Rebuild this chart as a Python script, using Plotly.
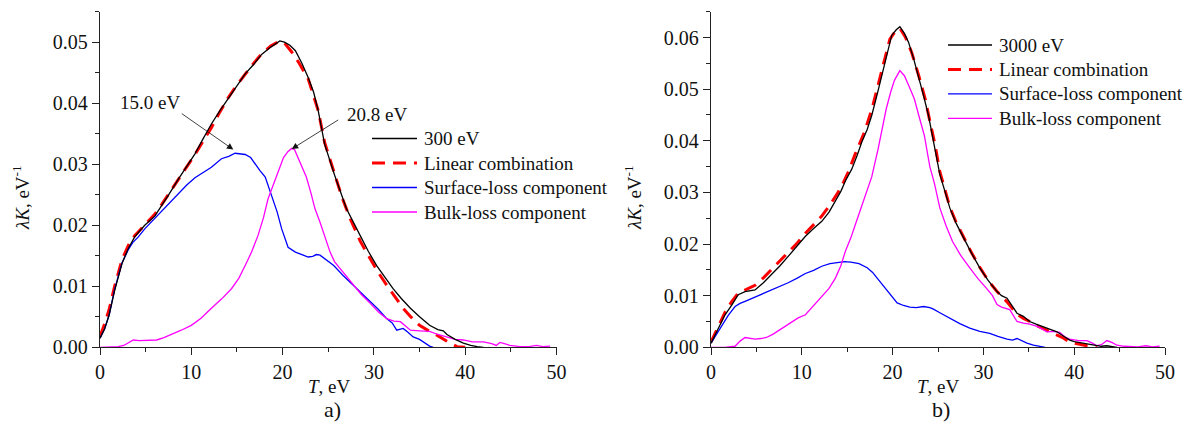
import plotly.graph_objects as go

# ---------------- data: panel a) (300 eV) ----------------
a_total = [(0, 0.0015), (0.5, 0.003), (1, 0.0053), (1.6, 0.0093), (2.4, 0.0137), (3.1, 0.0162),
           (3.8, 0.0181), (4.9, 0.0200), (6, 0.0215), (6.8, 0.0233), (7.6, 0.0252), (8.6, 0.0276),
           (9.5, 0.0296), (10.4, 0.0317), (11.3, 0.0342), (12.2, 0.0366), (13.1, 0.0387), (14.0, 0.0407),
           (14.9, 0.0427), (15.9, 0.0448), (16.8, 0.0463), (17.7, 0.0480), (18.7, 0.0492), (19.3, 0.0498),
           (19.7, 0.0502), (20.2, 0.0500), (20.8, 0.0495), (21.4, 0.0486), (22.1, 0.0466), (22.8, 0.0442),
           (23.4, 0.0418), (23.9, 0.0388), (24.6, 0.0333), (25.7, 0.0282), (27.0, 0.0227), (28.5, 0.0183),
           (29.4, 0.0157), (30.3, 0.0134), (31.2, 0.0114), (32.1, 0.0096), (33.0, 0.0080), (34.0, 0.0064),
           (35.0, 0.0050), (36.1, 0.0036), (37.0, 0.0029), (37.6, 0.0027), (38.0, 0.0021), (38.9, 0.0013),
           (39.8, 0.0007), (40.6, 0.0003), (41.3, 0.0001), (42.0, 0.0)]
a_fit = [(0, 0.0018), (0.5, 0.0038), (1, 0.0062), (1.6, 0.0100), (2.4, 0.0143), (3.1, 0.0167),
         (3.8, 0.0183), (4.9, 0.0201), (6, 0.0218), (6.8, 0.0235), (7.6, 0.0253), (8.6, 0.0274),
         (9.5, 0.0295), (10.4, 0.0316), (11.3, 0.0338), (12.2, 0.0360), (13.1, 0.0385), (14.0, 0.0408),
         (14.9, 0.0428), (15.9, 0.0448), (16.8, 0.0465), (17.7, 0.0481), (18.7, 0.0494), (19.7, 0.0502),
         (20.3, 0.0497), (21.0, 0.0484), (21.8, 0.0466), (22.8, 0.0440), (23.9, 0.0388), (24.6, 0.0336),
         (25.7, 0.0282), (26.5, 0.0246), (27.4, 0.0211), (28.5, 0.0174), (29.6, 0.0145), (30.5, 0.0122),
         (31.4, 0.0102), (32.3, 0.0083), (33.2, 0.0064), (34.1, 0.0049), (35.0, 0.0036), (36.0, 0.0027),
         (36.9, 0.0020), (38.0, 0.0010), (39.1, 0.0001), (40.0, 0.0)]
a_surface = [(0, 0.0015), (0.5, 0.003), (1, 0.0053), (1.6, 0.0095), (2.4, 0.0138), (3.1, 0.0160),
             (3.6, 0.0172), (4.2, 0.0181), (4.9, 0.0194), (5.8, 0.0208), (6.75, 0.0222), (7.6, 0.0237),
             (8.6, 0.0252), (9.5, 0.0266), (10.4, 0.0278), (11.3, 0.0287), (12.2, 0.0295), (13.3, 0.0309),
             (14.1, 0.0313), (14.8, 0.0318), (15.4, 0.0317), (15.9, 0.0316), (16.5, 0.0311), (17.0, 0.0300),
             (17.5, 0.0290), (18.1, 0.0279), (18.8, 0.0249), (19.4, 0.0222), (19.9, 0.0194), (20.3, 0.0175),
             (20.6, 0.0164), (21.4, 0.0156), (22.1, 0.0152), (22.8, 0.0148), (23.3, 0.0149), (23.7, 0.0152),
             (24.1, 0.0151), (24.6, 0.0145), (25.6, 0.0134), (26.6, 0.0118), (27.7, 0.0102), (28.6, 0.0089),
             (29.6, 0.0075), (30.5, 0.0062), (31.4, 0.0047), (32.0, 0.0040), (32.5, 0.0028), (33.2, 0.0031),
             (33.7, 0.0025), (34.3, 0.0017), (35.0, 0.0013), (35.4, 0.0009), (36.1, 0.0002), (36.5, 0.0)]
a_bulk = [(0, 0.0), (1, 0.0), (2, 0.0001), (2.6, 0.0003), (3.2, 0.0008), (3.65, 0.0012), (4.3, 0.0011),
          (4.9, 0.0011), (5.6, 0.0011), (6.2, 0.0012), (7.0, 0.0016), (7.85, 0.0021), (8.9, 0.0028),
          (10.0, 0.0036), (11.1, 0.0048), (12.2, 0.0064), (13.3, 0.0079), (14.4, 0.0096), (15.2, 0.0113),
          (15.9, 0.0134), (16.6, 0.0156), (17.3, 0.0183), (17.9, 0.0212), (18.4, 0.0243), (18.9, 0.0263),
          (19.35, 0.0282), (19.8, 0.0300), (20.1, 0.0311), (20.6, 0.0321), (21.0, 0.0326), (21.3, 0.0324),
          (21.7, 0.0311), (22.1, 0.0298), (22.6, 0.0279), (23.1, 0.0253), (23.55, 0.0227), (24.1, 0.0205),
          (24.6, 0.0183), (25.2, 0.0156), (25.7, 0.0140), (26.3, 0.0129), (27.0, 0.0115), (27.7, 0.0102),
          (28.6, 0.0087), (29.6, 0.0072), (30.5, 0.0058), (31.4, 0.0047), (32.2, 0.0043), (32.9, 0.0042),
          (33.5, 0.0034), (34.0, 0.0028), (35.0, 0.0027), (36.1, 0.0026), (37.0, 0.0021), (38.0, 0.0017),
          (38.9, 0.0013), (39.8, 0.0012), (40.8, 0.0009), (42.0, 0.0009), (42.9, 0.0006), (43.4, 0.0003),
          (43.8, 0.0008), (44.3, 0.0006), (44.9, 0.0003), (46.0, 0.0001), (47.0, 0.0001), (47.8, 0.0003),
          (48.5, 0.0001), (49.3, 0.0002)]

# ---------------- data: panel b) (3000 eV) ----------------
b_total = [(0, 0.0008), (0.8, 0.0037), (1.55, 0.0063), (2.3, 0.0082), (3.0, 0.0102), (3.75, 0.0108),
           (4.3, 0.0109), (4.85, 0.0111), (5.77, 0.0125), (6.7, 0.0141), (7.6, 0.0158), (8.5, 0.0176),
           (9.5, 0.0196), (10.4, 0.0215), (11.3, 0.0230), (12.2, 0.0244), (13.0, 0.0262), (13.7, 0.0283),
           (14.3, 0.0302), (14.8, 0.0322), (15.5, 0.0345), (16.1, 0.0372), (16.6, 0.0397), (17.2, 0.0422),
           (17.7, 0.0449), (18.3, 0.0490), (18.8, 0.0526), (19.4, 0.0568), (19.9, 0.0604), (20.4, 0.0615),
           (20.8, 0.0621), (21.3, 0.0608), (21.75, 0.0591), (22.3, 0.0560), (22.85, 0.0526), (23.4, 0.0488),
           (23.95, 0.0449), (24.4, 0.0410), (24.7, 0.0384), (25.2, 0.0335), (25.8, 0.0300), (26.3, 0.0270),
           (27.0, 0.0240), (27.8, 0.0212), (28.7, 0.0182), (29.6, 0.0154), (30.5, 0.0130), (31.5, 0.0108),
           (32.0, 0.0100), (32.6, 0.0095), (33.2, 0.0080), (33.7, 0.0066), (34.4, 0.0060), (35.1, 0.0050),
           (35.8, 0.0045), (36.6, 0.0040), (37.3, 0.0036), (38.1, 0.0030), (38.8, 0.0022), (39.5, 0.0014),
           (40.0, 0.0011), (40.7, 0.0009), (41.4, 0.0008), (42.0, 0.0006), (42.5, 0.0004), (43.0, 0.0002),
           (43.6, 0.0003), (44.2, 0.0001), (44.7, 0.0)]
b_fit = [(0, 0.0010), (0.8, 0.0040), (1.55, 0.0068), (2.3, 0.0089), (3.0, 0.0105), (3.9, 0.0112),
         (4.85, 0.0120), (5.8, 0.0135), (6.7, 0.0151), (7.6, 0.0167), (8.5, 0.0183), (9.5, 0.0202),
         (10.4, 0.0221), (11.3, 0.0237), (12.2, 0.0254), (13.1, 0.0276), (14.0, 0.0300), (14.6, 0.0320),
         (15.1, 0.0339), (15.9, 0.0375), (16.9, 0.0417), (17.7, 0.0460), (18.4, 0.0507), (19.1, 0.0553),
         (19.7, 0.0597), (20.3, 0.0612), (20.8, 0.0618), (21.4, 0.0601), (22.1, 0.0571), (22.9, 0.0525),
         (23.6, 0.0480), (24.2, 0.0430), (24.7, 0.0390), (25.2, 0.0340), (25.8, 0.0302), (26.3, 0.0272),
         (27.0, 0.0242), (27.8, 0.0213), (28.7, 0.0183), (29.6, 0.0155), (30.5, 0.0130), (31.5, 0.0108),
         (32.6, 0.0088), (33.7, 0.0064), (34.4, 0.0056), (35.1, 0.0050), (36.0, 0.0041), (37.0, 0.0033),
         (38.0, 0.0025), (38.8, 0.0018), (39.5, 0.0010), (40.5, 0.0006), (41.4, 0.0003), (42.5, 0.0)]
b_surface = [(0, 0.0008), (0.6, 0.0025), (1.18, 0.0043), (1.9, 0.0062), (2.65, 0.0079), (3.2, 0.0085),
             (3.75, 0.0089), (4.85, 0.0097), (5.8, 0.0104), (6.7, 0.0111), (7.6, 0.0118), (8.5, 0.0125),
             (9.5, 0.0134), (10.4, 0.0143), (11.3, 0.0149), (12.2, 0.0157), (13.1, 0.0162), (14.0, 0.0165),
             (14.7, 0.0166), (15.4, 0.0165), (16.3, 0.0162), (17.2, 0.0154), (17.8, 0.0145), (18.3, 0.0134),
             (18.9, 0.0121), (19.4, 0.0108), (20.0, 0.0095), (20.5, 0.0086), (21.2, 0.0081), (21.9, 0.0078),
             (22.6, 0.0077), (23.4, 0.0079), (24.1, 0.0077), (24.5, 0.0074), (25.2, 0.0067), (26.3, 0.0056),
             (27.4, 0.0046), (28.5, 0.0037), (29.6, 0.0031), (30.7, 0.0027), (31.6, 0.0021), (32.6, 0.0016),
             (33.2, 0.0014), (33.7, 0.0017), (34.3, 0.0012), (34.8, 0.0008), (35.5, 0.0004), (36.3, 0.0001),
             (36.8, 0.0)]
b_bulk = [(0, 0.0), (1.5, 0.0), (2.65, 0.0002), (3.2, 0.0012), (3.75, 0.0019), (4.3, 0.0017),
          (4.85, 0.0016), (5.5, 0.0017), (6.1, 0.0019), (6.8, 0.0025), (7.4, 0.0032), (8.1, 0.0040),
          (8.9, 0.0050), (9.6, 0.0057), (10.4, 0.0063), (11.3, 0.0080), (12.2, 0.0098), (13.0, 0.0114),
          (13.7, 0.0134), (14.3, 0.0158), (14.8, 0.0186), (15.4, 0.0212), (15.9, 0.0238), (16.5, 0.0268),
          (17.0, 0.0296), (17.7, 0.0330), (18.4, 0.0384), (18.9, 0.0425), (19.3, 0.0462), (19.8, 0.0495),
          (20.2, 0.0517), (20.8, 0.0536), (21.3, 0.0526), (21.8, 0.0506), (22.4, 0.0481), (22.9, 0.0448),
          (23.5, 0.0410), (24.1, 0.0350), (24.6, 0.0318), (25.2, 0.0270), (25.9, 0.0235), (26.6, 0.0205),
          (27.5, 0.0178), (28.5, 0.0154), (29.4, 0.0133), (30.3, 0.0115), (31.0, 0.0100), (31.5, 0.0083),
          (32.0, 0.0078), (32.9, 0.0073), (33.3, 0.0062), (33.7, 0.0050), (34.4, 0.0047), (35.1, 0.0045),
          (36.0, 0.0040), (37.0, 0.0030), (37.7, 0.0031), (38.4, 0.0029), (39.0, 0.0020), (39.5, 0.0016),
          (40.5, 0.0013), (41.4, 0.0013), (42.0, 0.0008), (42.5, 0.0003), (43.0, 0.0005), (43.6, 0.0013),
          (44.2, 0.0009), (44.7, 0.0004), (45.5, 0.0002), (46.1, 0.0002), (47.0, 0.0001), (47.9, 0.0003),
          (48.6, 0.0001), (49.4, 0.0002)]

series_names = ["Linear combination", "Surface-loss component", "Bulk-loss component"]
energy_labels = ["300 eV", "3000 eV"]
peak_labels = ["15.0 eV", "20.8 eV"]
panel_labels = ["a)", "b)"]

FONT = "Liberation Serif"
OFF = 8                     # the page body has an 8px margin
W, H = 1191 - OFF, 439 - OFF
TXT = "#111111"

STYLE_TOTAL = dict(color="#000000", width=1.3)
STYLE_FIT = dict(color="#ff0000", width=3, dash="13px,8px")
STYLE_SURF = dict(color="#0000ff", width=1.3)
STYLE_BULK = dict(color="#ff00ff", width=1.3)


def px(x):
    return (x - OFF) / W


def py(y):
    return (H - (y - OFF)) / H


def xy(pairs):
    return [p[0] for p in pairs], [p[1] for p in pairs]


fig = go.Figure()


def add_panel(total, fit, surf, bulk, label, xa, ya):
    for pairs, name, st in [(fit, series_names[0], STYLE_FIT), (surf, series_names[1], STYLE_SURF),
                            (bulk, series_names[2], STYLE_BULK), (total, label, STYLE_TOTAL)]:
        x, y = xy(pairs)
        fig.add_trace(go.Scatter(x=x, y=y, mode="lines", name=name, xaxis=xa, yaxis=ya,
                                 showlegend=False, line=st))


add_panel(a_total, a_fit, a_surface, a_bulk, energy_labels[0], "x", "y")
add_panel(b_total, b_fit, b_surface, b_bulk, energy_labels[1], "x2", "y2")

ydom = [py(347.3), py(11.7)]
axis_common = dict(showline=True, linecolor="#222", linewidth=1.3, ticks="outside", ticklen=7,
                   tickwidth=1.3, tickcolor="#222", showgrid=False, zeroline=False, mirror=False,
                   automargin=False, tickfont=dict(family=FONT, size=20, color=TXT))
xcommon = dict(axis_common, range=[0, 50], dtick=10, tick0=0,
               minor=dict(dtick=5, ticks="outside", ticklen=4, tickwidth=1.3, tickcolor="#222"))
ycommon = dict(axis_common, dtick=0.01, tick0=0, tickformat=".2f",
               minor=dict(dtick=0.005, ticks="outside", ticklen=4, tickwidth=1.3, tickcolor="#222"))

fig.update_layout(
    width=W, height=H, margin=dict(l=0, r=0, t=0, b=0, autoexpand=False),
    paper_bgcolor="white", plot_bgcolor="white",
    font=dict(family=FONT, size=19, color=TXT),
    xaxis=dict(xcommon, domain=[px(100), px(556.5)], anchor="y"),
    yaxis=dict(ycommon, domain=ydom, range=[0, 0.055], anchor="x"),
    xaxis2=dict(xcommon, domain=[px(711), px(1165)], anchor="y2"),
    yaxis2=dict(ycommon, domain=ydom, range=[0, 0.065], anchor="x2"),
    showlegend=False,
)

ann = []
shapes = []

# legends (line samples + labels), positions in page pixels
legend_specs = [
    (372, 417, 421.7, [138.5, 163.0, 187.5, 212.0], energy_labels[0]),
    (948, 992, 996.7, [45.0, 69.5, 93.8, 118.3], energy_labels[1]),
]
for x0, x1, xt, rows, lab in legend_specs:
    for ry, name, st in zip(rows, [lab] + series_names, [STYLE_TOTAL, STYLE_FIT, STYLE_SURF, STYLE_BULK]):
        ln = dict(color=st["color"], width=st["width"])
        if "dash" in st:
            ln["dash"] = st["dash"]
        shapes.append(dict(type="line", xref="paper", yref="paper", x0=px(x0), x1=px(x1),
                           y0=py(ry), y1=py(ry), line=ln))
        ann.append(dict(x=px(xt), y=py(ry), xref="paper", yref="paper", text=name,
                        xanchor="left", yanchor="middle", showarrow=False,
                        font=dict(family=FONT, size=19, color=TXT)))

# peak arrows (panel a)
ann.append(dict(x=14.6, y=0.0324, xref="x", yref="y", ax=-53, ay=-37, text="", showarrow=True,
                arrowhead=2, arrowsize=1.6, arrowwidth=0.8, arrowcolor="#111", standoff=0))
ann.append(dict(x=21.0, y=0.0325, xref="x", yref="y", ax=48, ay=-30, text="", showarrow=True,
                arrowhead=2, arrowsize=1.6, arrowwidth=0.8, arrowcolor="#111", standoff=0))
ann.append(dict(x=5.5, y=0.0401, xref="x", yref="y", text=peak_labels[0], showarrow=False,
                xanchor="center", yanchor="middle", font=dict(family=FONT, size=19, color=TXT)))
ann.append(dict(x=30.3, y=0.0382, xref="x", yref="y", text=peak_labels[1], showarrow=False,
                xanchor="center", yanchor="middle", font=dict(family=FONT, size=19, color=TXT)))
# axis titles
for cx in [21, 633]:
    ann.append(dict(x=px(cx), y=py(198), xref="paper", yref="paper", textangle=-90,
                    xanchor="center", yanchor="middle",
                    text="<i>λK</i>, eV<sup>-1</sup>", showarrow=False,
                    font=dict(family=FONT, size=19, color=TXT)))
for cx, pl in zip([329, 938], panel_labels):
    ann.append(dict(x=px(cx), y=py(386), xref="paper", yref="paper",
                    xanchor="center", yanchor="middle",
                    text="<i>T</i>, eV", showarrow=False,
                    font=dict(family=FONT, size=19, color=TXT)))
    ann.append(dict(x=px(cx + 3), y=py(409), xref="paper", yref="paper",
                    xanchor="center", yanchor="middle",
                    text=pl, showarrow=False, font=dict(family=FONT, size=22, color=TXT)))
fig.update_layout(annotations=ann, shapes=shapes)

fig.write_html("out.html")
